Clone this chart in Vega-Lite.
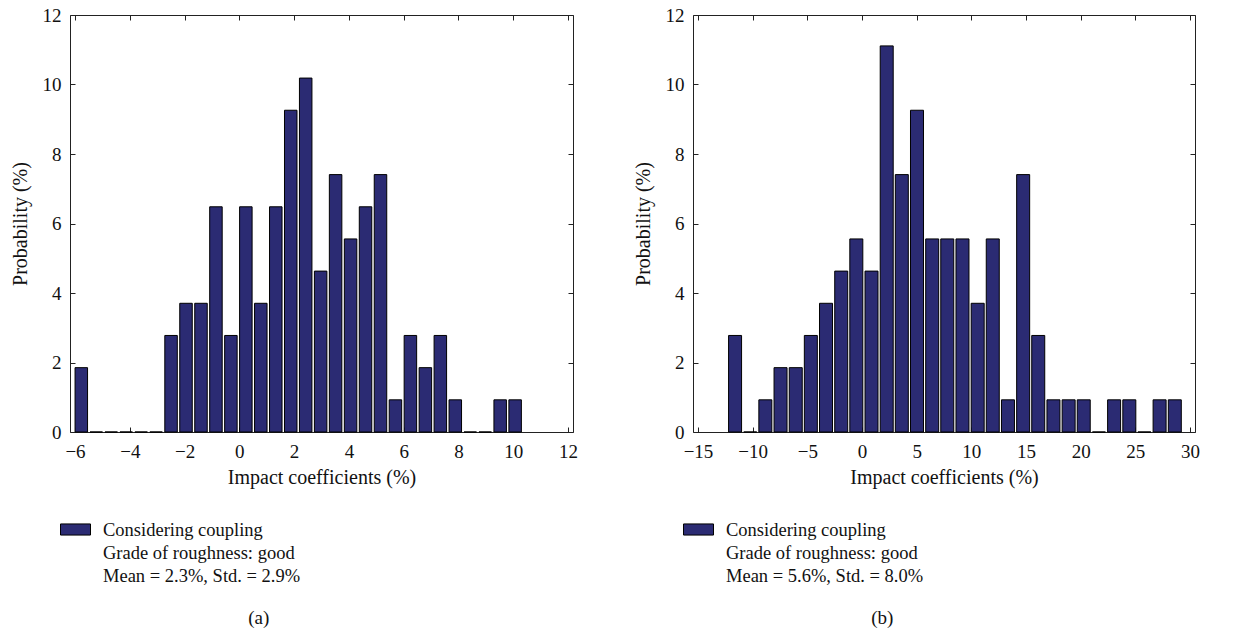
{
  "$schema": "https://vega.github.io/schema/vega-lite/v6.json",
  "background": "white",
  "padding": {"left": 9, "top": 5, "right": 5, "bottom": 0},
  "spacing": 53,
  "datasets": {
    "a": [
      {"c": -5.770, "p": 1.852, "s": "Considering coupling"},
      {"c": -5.224, "p": 0, "s": "Considering coupling"},
      {"c": -4.678, "p": 0, "s": "Considering coupling"},
      {"c": -4.131, "p": 0, "s": "Considering coupling"},
      {"c": -3.585, "p": 0, "s": "Considering coupling"},
      {"c": -3.039, "p": 0, "s": "Considering coupling"},
      {"c": -2.493, "p": 2.778, "s": "Considering coupling"},
      {"c": -1.947, "p": 3.704, "s": "Considering coupling"},
      {"c": -1.400, "p": 3.704, "s": "Considering coupling"},
      {"c": -0.854, "p": 6.481, "s": "Considering coupling"},
      {"c": -0.308, "p": 2.778, "s": "Considering coupling"},
      {"c": 0.238, "p": 6.481, "s": "Considering coupling"},
      {"c": 0.784, "p": 3.704, "s": "Considering coupling"},
      {"c": 1.331, "p": 6.481, "s": "Considering coupling"},
      {"c": 1.877, "p": 9.259, "s": "Considering coupling"},
      {"c": 2.423, "p": 10.185, "s": "Considering coupling"},
      {"c": 2.969, "p": 4.630, "s": "Considering coupling"},
      {"c": 3.515, "p": 7.407, "s": "Considering coupling"},
      {"c": 4.062, "p": 5.556, "s": "Considering coupling"},
      {"c": 4.608, "p": 6.481, "s": "Considering coupling"},
      {"c": 5.154, "p": 7.407, "s": "Considering coupling"},
      {"c": 5.700, "p": 0.926, "s": "Considering coupling"},
      {"c": 6.246, "p": 2.778, "s": "Considering coupling"},
      {"c": 6.793, "p": 1.852, "s": "Considering coupling"},
      {"c": 7.339, "p": 2.778, "s": "Considering coupling"},
      {"c": 7.885, "p": 0.926, "s": "Considering coupling"},
      {"c": 8.431, "p": 0, "s": "Considering coupling"},
      {"c": 8.977, "p": 0, "s": "Considering coupling"},
      {"c": 9.524, "p": 0.926, "s": "Considering coupling"},
      {"c": 10.070, "p": 0.926, "s": "Considering coupling"}
    ],
    "b": [
      {"c": -11.61, "p": 2.778, "s": "Considering coupling"},
      {"c": -10.22, "p": 0, "s": "Considering coupling"},
      {"c": -8.84, "p": 0.926, "s": "Considering coupling"},
      {"c": -7.45, "p": 1.852, "s": "Considering coupling"},
      {"c": -6.06, "p": 1.852, "s": "Considering coupling"},
      {"c": -4.68, "p": 2.778, "s": "Considering coupling"},
      {"c": -3.29, "p": 3.704, "s": "Considering coupling"},
      {"c": -1.90, "p": 4.630, "s": "Considering coupling"},
      {"c": -0.52, "p": 5.556, "s": "Considering coupling"},
      {"c": 0.87, "p": 4.630, "s": "Considering coupling"},
      {"c": 2.26, "p": 11.111, "s": "Considering coupling"},
      {"c": 3.64, "p": 7.407, "s": "Considering coupling"},
      {"c": 5.03, "p": 9.259, "s": "Considering coupling"},
      {"c": 6.42, "p": 5.556, "s": "Considering coupling"},
      {"c": 7.80, "p": 5.556, "s": "Considering coupling"},
      {"c": 9.19, "p": 5.556, "s": "Considering coupling"},
      {"c": 10.58, "p": 3.704, "s": "Considering coupling"},
      {"c": 11.96, "p": 5.556, "s": "Considering coupling"},
      {"c": 13.35, "p": 0.926, "s": "Considering coupling"},
      {"c": 14.74, "p": 7.407, "s": "Considering coupling"},
      {"c": 16.12, "p": 2.778, "s": "Considering coupling"},
      {"c": 17.51, "p": 0.926, "s": "Considering coupling"},
      {"c": 18.90, "p": 0.926, "s": "Considering coupling"},
      {"c": 20.28, "p": 0.926, "s": "Considering coupling"},
      {"c": 21.67, "p": 0, "s": "Considering coupling"},
      {"c": 23.06, "p": 0.926, "s": "Considering coupling"},
      {"c": 24.45, "p": 0.926, "s": "Considering coupling"},
      {"c": 25.83, "p": 0, "s": "Considering coupling"},
      {"c": 27.22, "p": 0.926, "s": "Considering coupling"},
      {"c": 28.61, "p": 0.926, "s": "Considering coupling"}
    ]
  },
  "hconcat": [
    {
      "title": {"text": "(a)", "orient": "bottom", "anchor": "middle", "offset": 23, "dx": -35},
      "vconcat": [
        {
          "width": 503,
          "height": 417,
          "data": {"name": "a"},
          "title": {"text": ["Considering coupling", "Grade of roughness: good", "Mean = 2.3%, Std. = 2.9%"], "orient": "bottom", "anchor": "start", "frame": "group", "dx": 33, "offset": 34, "lineHeight": 23, "fontSize": 18.5},
          "resolve": {"axis": {"x": "independent", "y": "independent"}},
          "layer": [
            {
              "mark": {"type": "bar", "size": 12.5, "stroke": "#000", "strokeWidth": 1, "opacity": 1},
              "encoding": {
                "x": {"field": "c", "type": "quantitative", "scale": {"domain": [-6, 12], "nice": false, "zero": false}, "axis": {"orient": "bottom", "values": [-6, -4, -2, 0, 2, 4, 6, 8, 10, 12], "title": "Impact coefficients (%)", "labelPadding": 15, "titlePadding": 6}},
                "y": {"field": "p", "type": "quantitative", "scale": {"domain": [0, 12], "nice": false}, "axis": {"orient": "left", "values": [0, 2, 4, 6, 8, 10, 12], "title": "Probability (%)", "labelPadding": 14, "titlePadding": 12}},
                "color": {"field": "s", "type": "nominal", "scale": {"range": ["#2b2b73"]}, "legend": {"orient": "none", "legendX": -10, "legendY": 499, "title": null, "labelExpr": "''", "symbolType": "M-1,-0.37H1V0.37H-1Z", "symbolSize": 900, "symbolStrokeColor": "#000", "symbolStrokeWidth": 1, "symbolOpacity": 1}}
              }
            },
            {
              "mark": {"type": "point", "opacity": 0},
              "encoding": {
                "x": {"field": "c", "type": "quantitative", "axis": {"orient": "top", "values": [-6, -4, -2, 0, 2, 4, 6, 8, 10, 12], "labels": false, "title": null}},
                "y": {"field": "p", "type": "quantitative", "axis": {"orient": "right", "values": [0, 2, 4, 6, 8, 10, 12], "labels": false, "title": null}}
              }
            }
          ]
        }
      ]
    },
    {
      "title": {"text": "(b)", "orient": "bottom", "anchor": "middle", "offset": 23, "dx": -34},
      "vconcat": [
        {
          "width": 502,
          "height": 417,
          "data": {"name": "b"},
          "title": {"text": ["Considering coupling", "Grade of roughness: good", "Mean = 5.6%, Std. = 8.0%"], "orient": "bottom", "anchor": "start", "frame": "group", "dx": 33, "offset": 34, "lineHeight": 23, "fontSize": 18.5},
          "resolve": {"axis": {"x": "independent", "y": "independent"}},
          "layer": [
            {
              "mark": {"type": "bar", "size": 13, "stroke": "#000", "strokeWidth": 1, "opacity": 1},
              "encoding": {
                "x": {"field": "c", "type": "quantitative", "scale": {"domain": [-15, 30], "nice": false, "zero": false}, "axis": {"orient": "bottom", "values": [-15, -10, -5, 0, 5, 10, 15, 20, 25, 30], "title": "Impact coefficients (%)", "labelPadding": 15, "titlePadding": 6}},
                "y": {"field": "p", "type": "quantitative", "scale": {"domain": [0, 12], "nice": false}, "axis": {"orient": "left", "values": [0, 2, 4, 6, 8, 10, 12], "title": "Probability (%)", "labelPadding": 14, "titlePadding": 12}},
                "color": {"field": "s", "type": "nominal", "scale": {"range": ["#2b2b73"]}, "legend": {"orient": "none", "legendX": -10, "legendY": 499, "title": null, "labelExpr": "''", "symbolType": "M-1,-0.37H1V0.37H-1Z", "symbolSize": 900, "symbolStrokeColor": "#000", "symbolStrokeWidth": 1, "symbolOpacity": 1}}
              }
            },
            {
              "mark": {"type": "point", "opacity": 0},
              "encoding": {
                "x": {"field": "c", "type": "quantitative", "axis": {"orient": "top", "values": [-15, -10, -5, 0, 5, 10, 15, 20, 25, 30], "labels": false, "title": null}},
                "y": {"field": "p", "type": "quantitative", "axis": {"orient": "right", "values": [0, 2, 4, 6, 8, 10, 12], "labels": false, "title": null}}
              }
            }
          ]
        }
      ]
    }
  ],
  "resolve": {"scale": {"x": "independent", "color": "independent"}, "legend": {"color": "independent"}},
  "config": {
    "font": "Liberation Serif",
    "view": {"stroke": "#222", "strokeWidth": 1},
    "axis": {"labelFont": "Liberation Serif", "titleFont": "Liberation Serif", "labelFontSize": 19, "titleFontSize": 20, "titleFontWeight": "normal", "labelColor": "#111", "titleColor": "#111", "tickColor": "#222", "tickSize": -5, "domain": false, "grid": false},
    "title": {"font": "Liberation Serif", "fontWeight": "normal", "color": "#111", "fontSize": 19},
    "legend": {"labelFont": "Liberation Serif"}
  }
}
